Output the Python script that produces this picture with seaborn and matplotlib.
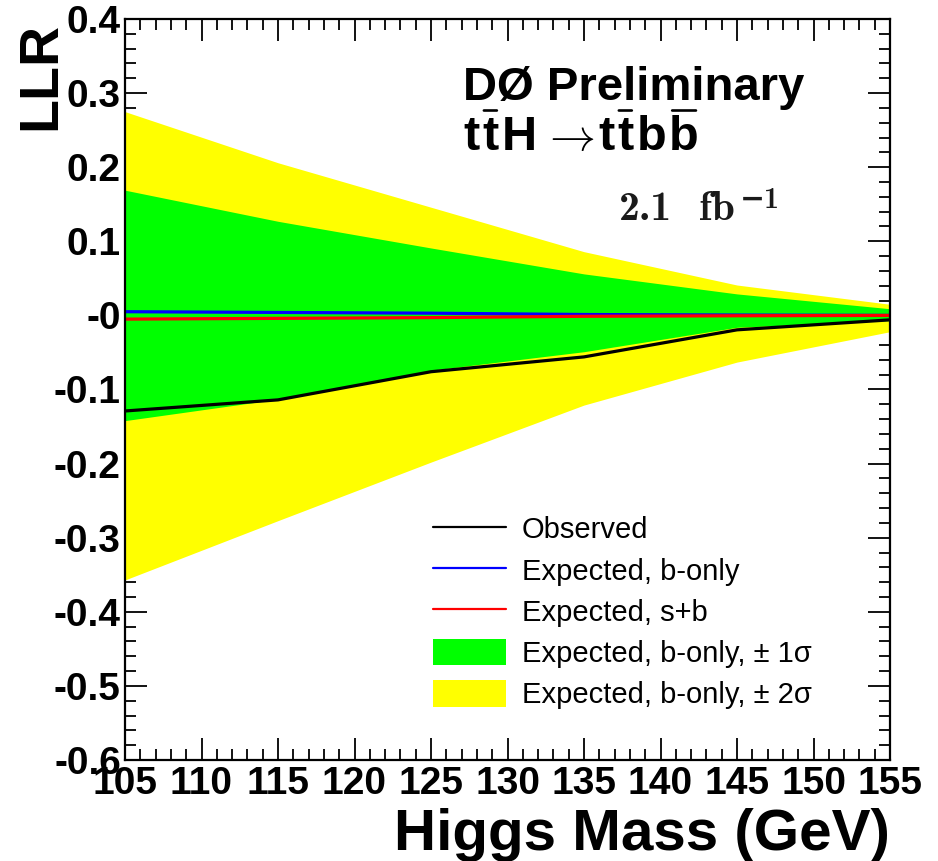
import matplotlib
matplotlib.use("Agg")
import matplotlib.pyplot as plt
from matplotlib.ticker import MultipleLocator, FixedLocator
from matplotlib.lines import Line2D
from matplotlib.patches import Patch
import pandas as pd
import seaborn as sns

# Higgs mass points (GeV)
mass = [105, 115, 125, 135, 145, 155]

# Log-likelihood ratio curves
llr_observed = [-0.129, -0.114, -0.076, -0.056, -0.0195, -0.006]
llr_exp_b = [0.005, 0.004, 0.003, 0.0012, 0.0005, 0.0]
llr_exp_sb = [-0.005, -0.004, -0.003, -0.0012, -0.0005, 0.0]

# b-only expectation bands
band_1s_hi = [0.169, 0.127, 0.091, 0.056, 0.029, 0.009]
band_1s_lo = [-0.142, -0.113, -0.074, -0.049, -0.016, -0.007]
band_2s_hi = [0.275, 0.206, 0.146, 0.086, 0.041, 0.015]
band_2s_lo = [-0.357, -0.277, -0.198, -0.121, -0.063, -0.022]

x_ticks = [105, 110, 115, 120, 125, 130, 135, 140, 145, 150, 155]
x_tick_labels = ["105", "110", "115", "120", "125", "130", "135", "140", "145", "150", "155"]
y_ticks = [0.4, 0.3, 0.2, 0.1, 0.0, -0.1, -0.2, -0.3, -0.4, -0.5, -0.6]
y_tick_labels = ["0.4", "0.3", "0.2", "0.1", "-0", "-0.1", "-0.2", "-0.3", "-0.4", "-0.5", "-0.6"]

legend_labels = ["Observed", "Expected, b-only", "Expected, s+b",
                 "Expected, b-only, \u00b1 1\u03c3", "Expected, b-only, \u00b1 2\u03c3"]

# Decay channel label, built glyph by glyph so antiparticles get an overbar
chan_pieces = ["t", "t", "H", r"$\rightarrow$", "t", "t", "b", "b"]
chan_barred = [False, True, False, False, False, True, False, True]

sns.set_theme(style="ticks")
plt.rcParams["font.family"] = ["Liberation Sans", "DejaVu Sans"]
plt.rcParams["text.color"] = "black"
plt.rcParams["xtick.color"] = "black"
plt.rcParams["ytick.color"] = "black"

W, H = 938, 861
fig = plt.figure(figsize=(W / 100, H / 100), dpi=100)
fig.patch.set_facecolor("white")
ax = fig.add_axes([125 / W, 1 - 760 / H, 765 / W, 741 / H])
ax.set_facecolor("white")

df = pd.DataFrame({
    "mass": mass,
    "observed": llr_observed,
    "exp_b": llr_exp_b,
    "exp_sb": llr_exp_sb,
})

YELLOW = "#ffff00"
GREEN = "#00ff00"

ax.fill_between(mass, band_2s_lo, band_2s_hi, color=YELLOW, lw=0, zorder=1)
ax.fill_between(mass, band_1s_lo, band_1s_hi, color=GREEN, lw=0, zorder=2)
sns.lineplot(data=df, x="mass", y="exp_b", color="#0000ff", lw=2.3, ax=ax, zorder=3)
sns.lineplot(data=df, x="mass", y="exp_sb", color="#ff0000", lw=2.3, ax=ax, zorder=3)
sns.lineplot(data=df, x="mass", y="observed", color="black", lw=2.3, ax=ax, zorder=4)

ax.set_xlim(105, 155)
ax.set_ylim(-0.6, 0.4)
ax.set_xlabel("")
ax.set_ylabel("")

ax.xaxis.set_major_locator(FixedLocator(x_ticks))
ax.xaxis.set_minor_locator(MultipleLocator(1))
ax.yaxis.set_major_locator(FixedLocator(y_ticks))
ax.yaxis.set_minor_locator(MultipleLocator(0.02))
ax.set_xticklabels(x_tick_labels, fontsize=28, fontweight="bold", color="black")
ax.set_yticklabels(y_tick_labels, fontsize=28, fontweight="bold", color="black")

ax.tick_params(which="both", direction="in", top=True, right=True,
               color="black", width=1.3)
ax.tick_params(which="major", length=16)
ax.tick_params(which="minor", length=8)
ax.tick_params(axis="x", which="major", pad=4)
ax.tick_params(axis="y", which="major", pad=3)
for sp in ax.spines.values():
    sp.set_visible(True)
    sp.set_color("black")
    sp.set_linewidth(1.6)
    sp.set_zorder(6)

# Axis titles
fig.text(41 / W, 1 - 22 / H, "LLR", rotation=90, ha="center", va="top",
         fontsize=40, fontweight="bold")
fig.text(890 / W, 1 - 850 / H, "Higgs Mass (GeV)", ha="right", va="baseline",
         fontsize=42, fontweight="bold")

# Experiment label
fig.text(463 / W, 1 - 100 / H, "D\u00d8 Preliminary", ha="left", va="baseline",
         fontsize=34, fontweight="bold")

# Channel label: glyphs chained left to right on a common baseline
first = fig.text(463 / W, 1 - 150 / H, chan_pieces[0], ha="left", va="baseline",
                 fontsize=35, fontweight="bold")
chan_artists = [first]
prev = first
for piece in chan_pieces[1:]:
    is_arrow = piece.startswith("$")
    after_arrow = prev.get_text().startswith("$")
    gap = 4 if (is_arrow or after_arrow) else 3
    art = ax.annotate(piece, xy=(1, 0), xycoords=(prev, first),
                      xytext=(gap, 0), textcoords="offset pixels",
                      ha="left", va="bottom",
                      fontsize=33 if is_arrow else 35,
                      fontweight="normal" if is_arrow else "bold",
                      math_fontfamily="cm",
                      annotation_clip=False)
    chan_artists.append(art)
    prev = art
for art, barred in zip(chan_artists, chan_barred):
    if barred:
        ax.annotate("", xy=(0.1, 1.1), xycoords=art, xytext=(0.9, 1.1),
                    textcoords=art, annotation_clip=False,
                    arrowprops=dict(arrowstyle="-", lw=1.9, color="black",
                                    shrinkA=0, shrinkB=0))

# Integrated luminosity, set in Computer Modern bold
lumi_val = fig.text(619 / W, 1 - 228 / H, "2.1", family="cmb10", fontsize=30,
                    ha="left", va="bottom", color="#1a1a1a")
lumi_unit = ax.annotate("fb", xy=(1, 0), xycoords=lumi_val, xytext=(27, 0),
                        textcoords="offset pixels", ha="left", va="bottom",
                        family="cmb10", fontsize=30, color="#1a1a1a",
                        annotation_clip=False)
ax.annotate("\u22121", xy=(1, 1), xycoords=lumi_unit, xytext=(5, 4),
            textcoords="offset pixels", ha="left", va="top",
            family=["cmb10", "DejaVu Serif"], fontweight="bold", fontsize=21.5,
            color="#1a1a1a", annotation_clip=False)

handles = [
    Line2D([], [], color="black", lw=1.6),
    Line2D([], [], color="#0000ff", lw=1.6),
    Line2D([], [], color="#ff0000", lw=1.6),
    Patch(facecolor=GREEN, edgecolor="none"),
    Patch(facecolor=YELLOW, edgecolor="none"),
]
fig.legend(handles, legend_labels, loc="upper left",
           bbox_to_anchor=(433 / W, 1 - 515 / H), frameon=False,
           fontsize=21, handlelength=2.5, handleheight=1.03,
           handletextpad=0.55, labelspacing=0.41, borderpad=0, borderaxespad=0,
           labelcolor="black")

fig.savefig("out.png", dpi=100)
